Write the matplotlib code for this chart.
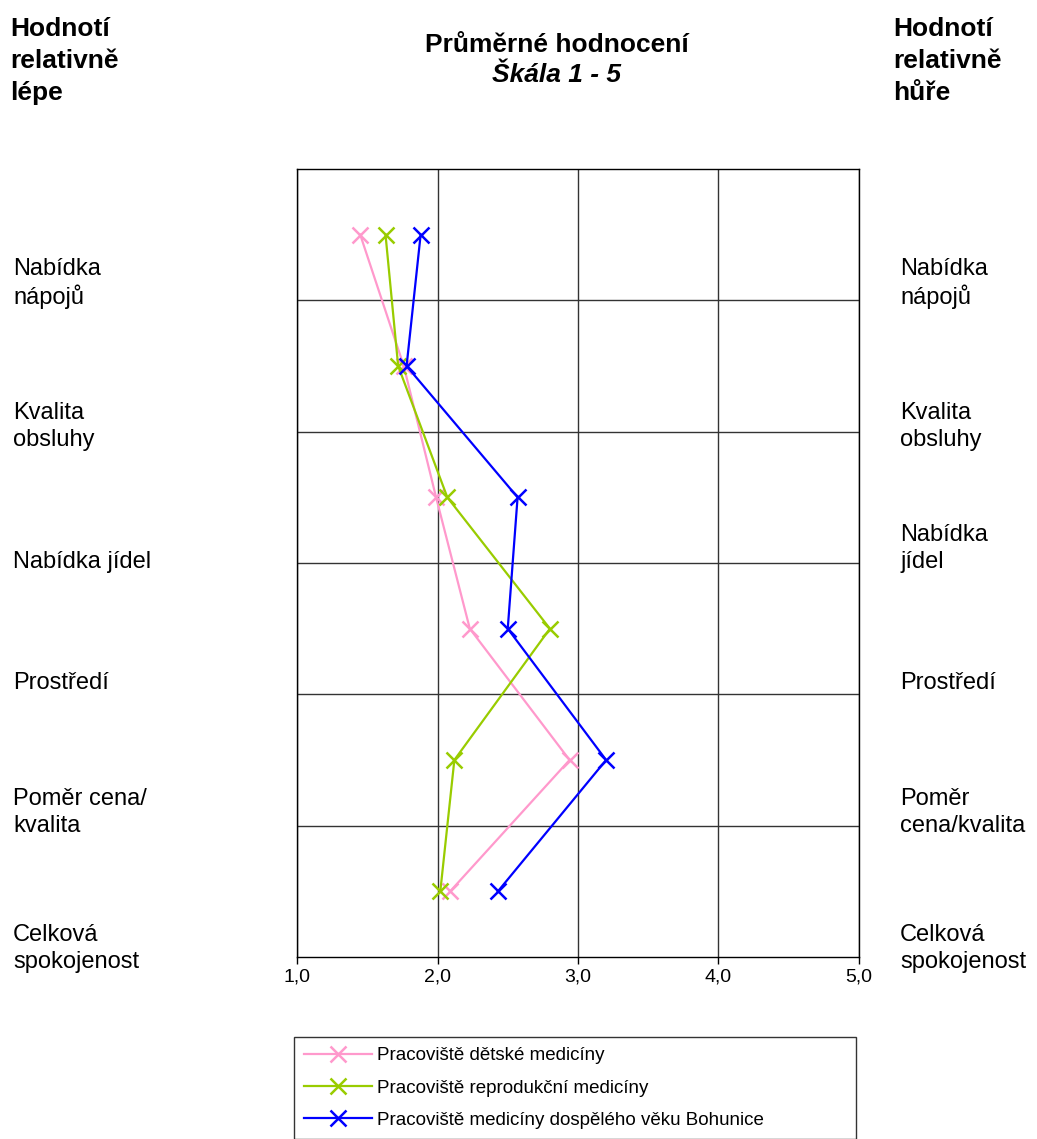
import matplotlib
matplotlib.use("Agg")
import matplotlib.pyplot as plt
from matplotlib.transforms import blended_transform_factory
import numpy as np

plt.rcParams['font.family'] = ['Liberation Sans', 'DejaVu Sans']

# Kategorie (shora dolu)
kategorie_vlevo = ["Nabídka\nnápojů", "Kvalita\nobsluhy", "Nabídka jídel",
                   "Prostředí", "Poměr cena/\nkvalita", "Celková\nspokojenost"]
kategorie_vpravo = ["Nabídka\nnápojů", "Kvalita\nobsluhy", "Nabídka\njídel",
                    "Prostředí", "Poměr\ncena/kvalita", "Celková\nspokojenost"]

# Prumerne hodnoceni (skala 1 - 5)
detska = [1.45, 1.76, 1.99, 2.23, 2.94, 2.09]
reprodukcni = [1.63, 1.72, 2.07, 2.80, 2.12, 2.02]
dospeli = [1.88, 1.78, 2.57, 2.50, 3.20, 2.43]

nazvy = ["Pracoviště dětské medicíny",
         "Pracoviště reprodukční medicíny",
         "Pracoviště medicíny dospělého věku Bohunice"]
barvy = ["#FF99CC", "#99CC00", "#0000FF"]

x_ticks = [1, 2, 3, 4, 5]
x_tick_labels = ["1,0", "2,0", "3,0", "4,0", "5,0"]

fig = plt.figure(figsize=(10.37, 11.39), dpi=100)
ax = fig.add_axes([297/1037, 182/1139, 562/1037, 788/1139])

y = np.arange(len(kategorie_vlevo)) + 0.5
for hodnoty, nazev, barva in zip([detska, reprodukcni, dospeli], nazvy, barvy):
    ax.plot(hodnoty, y, color=barva, lw=1.6, marker="x", ms=11, mew=1.8,
            label=nazev, clip_on=False)

ax.set_xlim(1, 5)
ax.set_ylim(len(kategorie_vlevo), 0)
ax.set_xticks(x_ticks)
ax.set_xticklabels(x_tick_labels, fontsize=14)
ax.set_yticks(np.arange(1, len(kategorie_vlevo)))
ax.set_yticklabels([])
ax.tick_params(axis="y", length=0)
ax.tick_params(axis="x", length=5, width=1, pad=3, direction="out")
ax.grid(True, color="#333333", lw=1)
for s in ax.spines.values():
    s.set_color("black")
    s.set_linewidth(1)

# popisky kategorii vlevo a vpravo
tr = blended_transform_factory(fig.transFigure, ax.transData)
posl_radek = [0.97, 2.06, 2.99, 3.91, 5.0, 6.04]
krok = 27 / 131.3
for texty, x0 in [(kategorie_vlevo, 13/1037), (kategorie_vpravo, 900/1037)]:
    for text, yl in zip(texty, posl_radek):
        radky = text.split("\n")
        n = len(radky)
        for k, r in enumerate(radky):
            fig.text(x0, yl - (n - 1 - k) * krok, r, transform=tr,
                     ha="left", va="center", fontsize=17)

# nadpisy
for txt, x0 in [("Hodnotí\nrelativně\nlépe", 10/1037), ("Hodnotí\nrelativně\nhůře", 893/1037)]:
    for k, r in enumerate(txt.split("\n")):
        fig.text(x0, 1 - (29 + 32*k)/1139, r, ha="left", va="center",
                 fontsize=19, fontweight="bold")
fig.text(557/1037, 1 - 45/1139, "Průměrné hodnocení", ha="center", va="center",
         fontsize=19, fontweight="bold")
fig.text(557/1037, 1 - 75/1139, "Škála 1 - 5", ha="center", va="center",
         fontsize=19, fontweight="bold", style="italic")

leg = fig.legend(loc="upper left", bbox_to_anchor=(294/1037, 1 - 1037/1139, 562/1037, 0.0),
                 mode="expand", fontsize=13.5, frameon=True, fancybox=False,
                 handlelength=3.6, handletextpad=0.3, labelspacing=0.8,
                 borderpad=0.55, borderaxespad=0)
leg.get_frame().set_edgecolor("black")
leg.get_frame().set_linewidth(1)

fig.savefig("out.png", dpi=100)
